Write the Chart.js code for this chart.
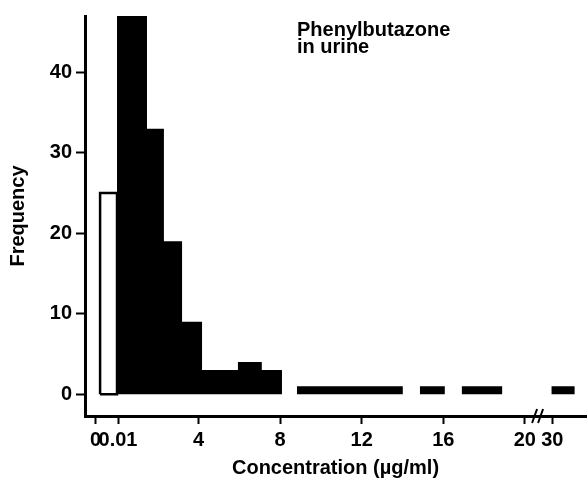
<!DOCTYPE html>
<html>
<head>
<meta charset="utf-8">
<script src="https://cdn.jsdelivr.net/npm/chart.js@4.4.1/dist/chart.umd.min.js"></script>
<style>
  html, body { margin: 0; padding: 0; background: #fff; }
  #wrap { width: 587px; height: 484px; }
</style>
</head>
<body>
<div id="wrap"><canvas id="histChart"></canvas></div>
<script>
// positions along the drawn x axis: "0" (not detected) sits left of 0.01, 30 sits past the break
var tickPos = [-1.05, 0.05, 4, 8, 12, 16, 20, 21.35];
var tickLabels = ['0', '0.01', '4', '8', '12', '16', '20', '30'];
var yTicks = [0, 10, 20, 30, 40];

// not detected (open bar)
var ndStart = [-0.83];
var ndEnd = [0];
var ndFreq = [25];

// detected concentrations (solid bars)
var binStart = [0, 1.47, 2.3, 3.19, 4.17, 5.93, 7.1, 8.82, 14.85, 16.9, 21.3];
var binEnd = [1.47, 2.3, 3.19, 4.17, 5.93, 7.1, 8.09, 14.02, 16.08, 18.9, 22.45];
var freq = [47, 33, 19, 9, 3, 4, 3, 1, 1, 1, 1];

var axisBreak = 20.6;

// stepped outline of the histogram, broken where bins are not next to each other
function histPoints(starts, ends, values) {
    var pts = [];
    for (var i = 0; i < values.length; i++) {
        pts.push({x: starts[i], y: values[i]});
        if (i === values.length - 1 || starts[i + 1] !== ends[i]) {
            pts.push({x: ends[i], y: values[i]});
            pts.push({x: ends[i], y: null});
        }
    }
    return pts;
}

// closed rectangle for each open bar
function boxPoints(starts, ends, values) {
    var pts = [];
    for (var i = 0; i < values.length; i++) {
        pts.push({x: starts[i], y: 0});
        pts.push({x: starts[i], y: values[i]});
        pts.push({x: ends[i], y: values[i]});
        pts.push({x: ends[i], y: 0});
        pts.push({x: starts[i], y: 0});
        pts.push({x: starts[i], y: null});
    }
    return pts;
}

Chart.defaults.font.family = "'Liberation Sans', Arial, sans-serif";
Chart.defaults.font.weight = 'bold';
Chart.defaults.font.size = 20;
Chart.defaults.color = '#000';

var extras = {
    id: 'extras',
    afterDraw: function(chart) {
        var ctx = chart.ctx;
        var x = chart.scales.x;
        var area = chart.chartArea;
        ctx.save();
        // axis break marks
        var px = x.getPixelForValue(axisBreak);
        var py = area.bottom;
        ctx.strokeStyle = '#000';
        ctx.lineWidth = 2;
        ctx.beginPath();
        ctx.moveTo(px - 5, py + 7);
        ctx.lineTo(px, py - 7);
        ctx.moveTo(px + 1, py + 7);
        ctx.lineTo(px + 6, py - 7);
        ctx.stroke();
        // note in the corner
        ctx.fillStyle = '#000';
        ctx.font = "bold 20px 'Liberation Sans', Arial, sans-serif";
        ctx.textBaseline = 'middle';
        ctx.textAlign = 'left';
        ctx.fillText('Phenylbutazone', 297, 30);
        ctx.fillText('in urine', 297, 47);
        ctx.restore();
    }
};

var ctx = document.getElementById('histChart').getContext('2d');

new Chart(ctx, {
    type: 'line',
    data: {
        datasets: [{
            label: 'Not detected',
            data: boxPoints(ndStart, ndEnd, ndFreq),
            borderColor: '#000',
            borderWidth: 2.5,
            backgroundColor: '#fff',
            fill: false,
            pointRadius: 0,
            tension: 0
        }, {
            label: 'Detected',
            data: histPoints(binStart, binEnd, freq),
            borderColor: '#000',
            borderWidth: 0,
            backgroundColor: '#000',
            fill: 'origin',
            stepped: true,
            pointRadius: 0,
            spanGaps: false
        }]
    },
    options: {
        responsive: true,
        maintainAspectRatio: false,
        animation: false,
        events: [],
        layout: {
            padding: {top: 13, right: 1, bottom: 0, left: 0}
        },
        plugins: {
            legend: {display: false},
            tooltip: {enabled: false}
        },
        scales: {
            x: {
                type: 'linear',
                min: -1.57,
                max: 23,
                afterFit: function(scale) { scale.height = 68; },
                afterBuildTicks: function(scale) {
                    scale.ticks = tickPos.map(function(v) { return {value: v}; });
                },
                border: {display: true, color: '#000', width: 3},
                grid: {
                    drawOnChartArea: false,
                    tickLength: 8,
                    tickWidth: 2,
                    tickColor: '#000'
                },
                ticks: {
                    autoSkip: false,
                    maxRotation: 0,
                    padding: 4,
                    callback: function(value, index) { return tickLabels[index]; }
                },
                title: {
                    display: true,
                    text: 'Concentration (µg/ml)',
                    padding: {top: 0, bottom: 4}
                }
            },
            y: {
                min: -2.7,
                max: 47,
                afterFit: function(scale) { scale.width = 85; },
                afterBuildTicks: function(scale) {
                    scale.ticks = yTicks.map(function(v) { return {value: v}; });
                },
                border: {display: true, color: '#000', width: 3},
                grid: {
                    drawOnChartArea: false,
                    tickLength: 9,
                    tickWidth: 2,
                    tickColor: '#000'
                },
                ticks: {
                    padding: 4
                },
                title: {
                    display: true,
                    text: 'Frequency',
                    padding: {top: 6, bottom: 0}
                }
            }
        }
    },
    plugins: [extras]
});
</script>
</body>
</html>
